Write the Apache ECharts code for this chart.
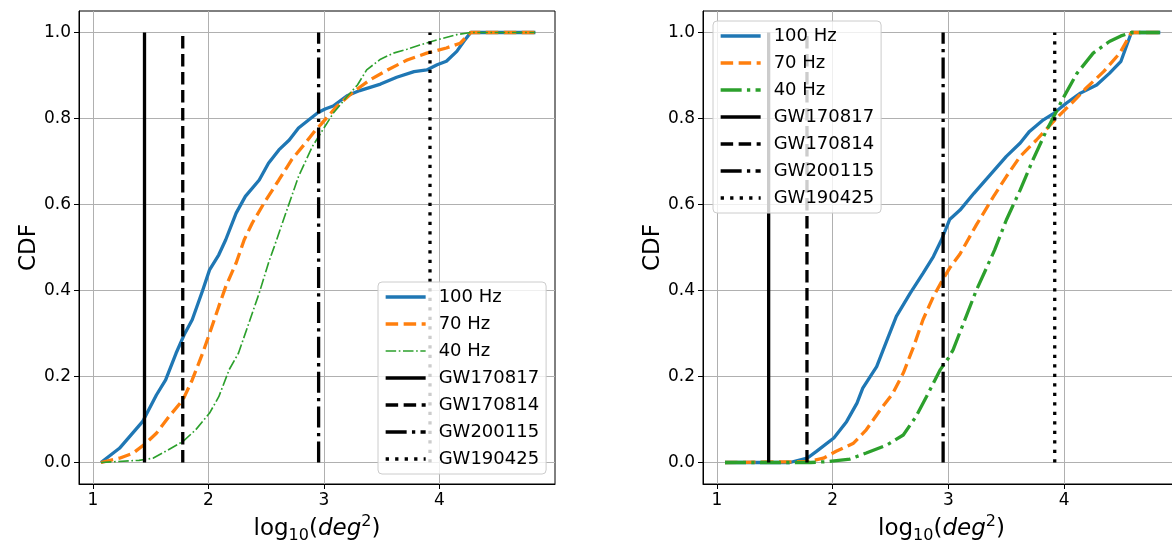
<!DOCTYPE html>
<html>
<head>
<meta charset="utf-8">
<script src="https://cdn.jsdelivr.net/npm/echarts@6/dist/echarts.min.js"></script>
<style>
html,body{margin:0;padding:0;background:#fff;}
#c{width:1172px;height:543px;}
</style>
</head>
<body>
<div id="c"></div>
<script>
// ---- data ----
const xTicks = [1, 2, 3, 4];
const yTicks = [0, 0.2, 0.4, 0.6, 0.8, 1.0];
const eventNames = ['GW170817', 'GW170814', 'GW200115', 'GW190425'];
const eventLogArea = [1.447, 1.778, 2.954, 3.918];
const freqNames = ['100 Hz', '70 Hz', '40 Hz'];

const left100 = [[1.07,0],[1.23,0.033],[1.43,0.095],[1.55,0.157],[1.63,0.192],[1.72,0.254],[1.79,0.297],[1.86,0.332],[1.95,0.40],[2.01,0.448],[2.09,0.483],[2.15,0.518],[2.24,0.58],[2.32,0.619],[2.44,0.657],[2.52,0.696],[2.61,0.727],[2.70,0.75],[2.78,0.778],[2.87,0.797],[2.95,0.814],[3.01,0.822],[3.08,0.829],[3.20,0.853],[3.31,0.865],[3.49,0.88],[3.63,0.896],[3.78,0.909],[3.89,0.913],[3.98,0.925],[4.06,0.933],[4.15,0.956],[4.21,0.979],[4.27,1.0],[4.83,1.0]];
const left70 = [[1.07,0],[1.23,0.01],[1.35,0.022],[1.46,0.045],[1.55,0.068],[1.66,0.107],[1.78,0.146],[1.86,0.192],[1.95,0.254],[2.01,0.30],[2.09,0.363],[2.15,0.409],[2.24,0.464],[2.31,0.518],[2.38,0.557],[2.49,0.607],[2.61,0.657],[2.72,0.704],[2.84,0.743],[2.93,0.774],[2.97,0.785],[3.11,0.828],[3.26,0.863],[3.40,0.89],[3.55,0.913],[3.72,0.936],[3.89,0.952],[4.06,0.964],[4.18,0.975],[4.27,1.0],[4.83,1.0]];
const left40 = [[1.07,0],[1.40,0.005],[1.52,0.01],[1.63,0.026],[1.78,0.049],[1.89,0.076],[2.01,0.115],[2.09,0.153],[2.18,0.216],[2.26,0.254],[2.35,0.324],[2.44,0.394],[2.52,0.464],[2.57,0.502],[2.67,0.58],[2.78,0.665],[2.90,0.735],[2.97,0.765],[3.08,0.812],[3.20,0.851],[3.29,0.878],[3.37,0.913],[3.49,0.938],[3.60,0.952],[3.72,0.961],[3.83,0.971],[3.98,0.983],[4.15,0.995],[4.27,1.0],[4.83,1.0]];

const right100 = [[1.07,0],[1.63,0],[1.78,0.01],[1.86,0.026],[2.01,0.057],[2.12,0.095],[2.21,0.138],[2.26,0.173],[2.38,0.223],[2.47,0.285],[2.55,0.34],[2.67,0.394],[2.78,0.44],[2.87,0.479],[2.94,0.518],[3.01,0.565],[3.10,0.587],[3.22,0.626],[3.36,0.669],[3.50,0.712],[3.62,0.743],[3.70,0.77],[3.82,0.797],[3.91,0.812],[4.02,0.836],[4.14,0.859],[4.28,0.878],[4.39,0.905],[4.49,0.933],[4.58,1.0],[4.83,1.0]];
const right70 = [[1.07,0],[1.78,0.002],[1.92,0.01],[2.03,0.026],[2.18,0.045],[2.29,0.076],[2.41,0.122],[2.52,0.161],[2.61,0.208],[2.70,0.27],[2.78,0.332],[2.87,0.386],[2.95,0.425],[3.01,0.452],[3.10,0.485],[3.24,0.552],[3.39,0.619],[3.50,0.665],[3.62,0.712],[3.76,0.75],[3.88,0.785],[3.96,0.808],[4.08,0.84],[4.19,0.871],[4.34,0.909],[4.48,0.952],[4.58,1.0],[4.83,1.0]];
const right40 = [[1.07,0],[1.81,0],[1.95,0.002],[2.15,0.008],[2.29,0.022],[2.47,0.041],[2.61,0.064],[2.72,0.107],[2.81,0.153],[2.93,0.216],[3.00,0.243],[3.04,0.262],[3.13,0.324],[3.24,0.40],[3.36,0.471],[3.40,0.495],[3.50,0.564],[3.62,0.634],[3.73,0.704],[3.85,0.774],[3.92,0.81],[3.99,0.847],[4.11,0.905],[4.25,0.952],[4.39,0.979],[4.49,0.992],[4.58,1.0],[4.83,1.0]];

// ---- styles ----
const FONT = 'DejaVu Sans';
const C_BLUE = '#1f77b4', C_ORANGE = '#ff7f0e', C_GREEN = '#2ca02c';
const LW = 3.3;
const DASH = [12.5, 5.5];
const DASHDOT = [21, 5.3, 3.3, 5.3];
const DOT = [3.3, 6.2];
const eventDash = ['solid', DASH, DASHDOT, DOT];

function xAxisCfg(gi) {
  return {
    type: 'value', gridIndex: gi, min: 0.88, max: 5.0,
    name: '{a|log}{s|10}{a|(}{i|deg}{p|2}{a|)}',
    nameLocation: 'middle', nameGap: 29,
    nameTextStyle: {
      rich: {
        a: {fontSize: 23, fontFamily: FONT, color: '#000', lineHeight: 30},
        s: {fontSize: 16, fontFamily: FONT, color: '#000', lineHeight: 16, verticalAlign: 'bottom'},
        i: {fontSize: 23, fontFamily: FONT, fontStyle: 'italic', color: '#000', lineHeight: 30},
        p: {fontSize: 16, fontFamily: FONT, color: '#000', lineHeight: 16, verticalAlign: 'top'}
      }
    },
    axisLine: {show: true, onZero: false, lineStyle: {color: '#000', width: 1}},
    axisTick: {show: true, length: 5, customValues: xTicks, lineStyle: {color: '#000', width: 1}},
    axisLabel: {show: true, customValues: xTicks, margin: 8, fontSize: 17, fontFamily: FONT, color: '#000',
      formatter: v => String(v)},
    splitLine: {show: true, lineStyle: {color: '#b0b0b0', width: 1}}
  };
}
function yAxisCfg(gi) {
  return {
    type: 'value', gridIndex: gi, min: -0.05, max: 1.05,
    name: 'CDF', nameLocation: 'middle', nameGap: 37,
    nameTextStyle: {fontSize: 23, fontFamily: FONT, color: '#000'},
    axisLine: {show: true, onZero: false, lineStyle: {color: '#000', width: 1}},
    axisTick: {show: true, length: 5, customValues: yTicks, lineStyle: {color: '#000', width: 1}},
    axisLabel: {show: true, customValues: yTicks, margin: 8, fontSize: 17, fontFamily: FONT, color: '#000',
      formatter: v => Number(v).toFixed(1)},
    splitLine: {show: true, lineStyle: {color: '#b0b0b0', width: 1}}
  };
}

function curve(name, data, color, width, type, gi) {
  return {
    name: name, type: 'line', xAxisIndex: gi, yAxisIndex: gi, data: data,
    symbol: 'none', showSymbol: false, smooth: false, z: 3,
    lineStyle: {color: color, width: width, type: type, cap: 'butt'},
    itemStyle: {color: color}, emphasis: {disabled: true}
  };
}

const series = [];
const prefixes = ['', 'R|'];
const curvesPer = [[left100, left70, left40], [right100, right70, right40]];
const greenWidth = [1.65, LW];
const greenDash = [[10.5, 2.6, 1.65, 2.6], DASHDOT];
for (let gi = 0; gi < 2; gi++) {
  const p = prefixes[gi];
  series.push(curve(p + freqNames[0], curvesPer[gi][0], C_BLUE, LW, 'solid', gi));
  series.push(curve(p + freqNames[1], curvesPer[gi][1], C_ORANGE, LW, DASH, gi));
  series.push(curve(p + freqNames[2], curvesPer[gi][2], C_GREEN, greenWidth[gi], greenDash[gi], gi));
  for (let k = 0; k < eventNames.length; k++) {
    series.push(curve(p + eventNames[k], [[eventLogArea[k], 0], [eventLogArea[k], 1]], '#000', LW, eventDash[k], gi));
  }
}

function legendCfg(gi, left, top) {
  const p = prefixes[gi];
  return {
    orient: 'vertical', left: left, top: top,
    itemWidth: 40, itemHeight: 14, itemGap: 7,
    padding: [5, 7, 5, 6],
    backgroundColor: 'rgba(255,255,255,0.8)', borderColor: '#cccccc', borderWidth: 1, borderRadius: 4,
    textStyle: {fontSize: 18, fontFamily: FONT, color: '#000', lineHeight: 20, padding: [0, 0, 0, 8]},
    lineStyle: {width: 'inherit'},
    itemStyle: {opacity: 0, borderWidth: 0},
    selectedMode: false,
    formatter: n => n.replace('R|', ''),
    data: freqNames.concat(eventNames).map(n => p + n)
  };
}

const chart = echarts.init(document.getElementById('c'), null, {renderer: 'canvas'});
chart.setOption({
  animation: false,
  backgroundColor: '#fff',
  grid: [
    {left: 79, right: 617, top: 11, bottom: 59, show: true, borderColor: '#000', borderWidth: 1,
     containLabel: false, outerBoundsMode: 'none'},
    {left: 703, right: -8, top: 11, bottom: 59, show: true, borderColor: '#000', borderWidth: 1,
     containLabel: false, outerBoundsMode: 'none'}
  ],
  xAxis: [xAxisCfg(0), xAxisCfg(1)],
  yAxis: [yAxisCfg(0), yAxisCfg(1)],
  legend: [legendCfg(0, 378, 282), legendCfg(1, 713, 21)],
  series: series
});
</script>
</body>
</html>
